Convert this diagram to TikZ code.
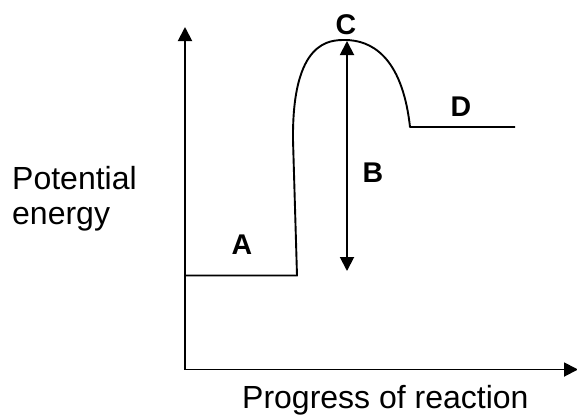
\documentclass[tikz,border=0pt]{standalone}
\usepackage{fontspec}
\setmainfont{Liberation Sans}
\usetikzlibrary{arrows.meta}
\begin{document}
\begin{tikzpicture}[x=1pt,y=-1pt,
  line/.style={line width=1.9pt},
  tip/.style={-{Triangle[width=14pt,length=14pt]}},
  lbl/.style={font=\fontsize{28.5}{30}\selectfont\bfseries, inner sep=0pt},
  txt/.style={font=\fontsize{32}{35}\selectfont, inner sep=0pt, anchor=base west}]
\useasboundingbox (0,0) rectangle (577,416);
% axes
\coordinate (origin) at (185,369.5);
\coordinate (ytop) at (185,27);
\coordinate (xend) at (578,369.5);
\draw[line,tip] (origin) -- (ytop);
\draw[line,tip] (origin) -- (xend);
% energy profile
\coordinate (a0) at (185,275.5);
\coordinate (a1) at (297,275.5);
\coordinate (up) at (293,140);
\coordinate (peak) at (345,40);
\coordinate (d0) at (410,127);
\coordinate (d1) at (515,127);
\draw[line,line join=round] (a0) -- (a1) -- (up)
  .. controls (292,40) and (330,40) .. (peak)
  .. controls (370,40) and (402,55) .. (d0) -- (d1);
% B arrow
\coordinate (btop) at (347,41);
\coordinate (bbot) at (347,271);
\draw[line,{Triangle[width=14pt,length=14pt]}-{Triangle[width=14pt,length=14pt]}] (bbot) -- (btop);
% labels
\node[lbl] (C) at (346,25) {C};
\node[lbl] (B) at (373,172.5) {B};
\node[lbl] (A) at (242,244.5) {A};
\node[lbl] (D) at (461,107) {D};
\node[txt] (pot) at (12,189) {Potential};
\node[txt] (en) at (12,224) {energy};
\node[txt] (prog) at (242,408.5) {Progress of reaction};
\end{tikzpicture}
\end{document}
